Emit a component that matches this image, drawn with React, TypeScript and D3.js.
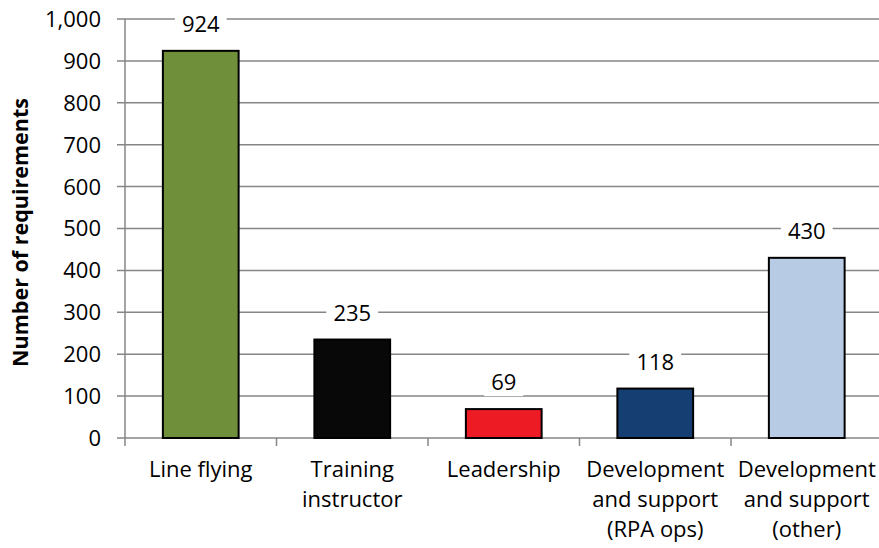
import React from "react";
import * as d3 from "d3";

const categories: string[][] = [
  ["Line flying"],
  ["Training", "instructor"],
  ["Leadership"],
  ["Development", "and support", "(RPA ops)"],
  ["Development", "and support", "(other)"],
];
const values: number[] = [924, 235, 69, 118, 430];
const colors: string[] = ["#6f8f3a", "#080808", "#ed1c24", "#153f72", "#b8cbe4"];
const yTicks: number[] = [0, 100, 200, 300, 400, 500, 600, 700, 800, 900, 1000];
const yTitle = "Number of requirements";

const W = 879;
const H = 548;
const left = 125;
const right = 882.5;
const top = 19;
const bottom = 438;
const FONT = "'Open Sans', sans-serif";

export default function App() {
  const x = d3
    .scaleBand<number>()
    .domain(d3.range(values.length))
    .range([left, right])
    .paddingInner(0.5)
    .paddingOuter(0.25);
  const y = d3.scaleLinear().domain([0, 1000]).range([bottom, top]);
  const step = x.step();
  const fmt = d3.format(",");
  const grid = "#868686";

  return (
    <svg
      width={W}
      height={H}
      style={{ position: "absolute", left: 0, top: 0, background: "#fff" }}
      fontFamily={FONT}
    >
      <rect x={0} y={0} width={W} height={H} fill="#fff" />
      {yTicks.map((t) => (
        <g key={t}>
          <line x1={left - 8} x2={right} y1={y(t)} y2={y(t)} stroke={grid} strokeWidth={1.5} />
          <text x={101} y={y(t)} dy="0.36em" textAnchor="end" fontSize={22} fill="#000">
            {fmt(t)}
          </text>
        </g>
      ))}
      <line x1={left} x2={left} y1={top} y2={bottom} stroke={grid} strokeWidth={1.5} />
      {d3.range(values.length + 1).map((i) => {
        const xx = left + i * step;
        return <line key={i} x1={xx} x2={xx} y1={bottom} y2={bottom + 8} stroke={grid} strokeWidth={1.5} />;
      })}
      {values.map((v, i) => (
        <rect
          key={i}
          x={x(i)!}
          y={y(v)}
          width={x.bandwidth()}
          height={bottom - y(v)}
          fill={colors[i]}
          stroke="#000"
          strokeWidth={2}
        />
      ))}
      {values.map((v, i) => {
        const cx = x(i)! + x.bandwidth() / 2;
        const by = y(v) - 19;
        const w = String(v).length * 12.6 + 14;
        return (
          <g key={i}>
            <rect x={cx - w / 2} y={by - 20} width={w} height={26} fill="#fff" />
            <text x={cx} y={by} textAnchor="middle" fontSize={22} fill="#000">
              {v}
            </text>
          </g>
        );
      })}
      {categories.map((lines, i) => {
        const cx = x(i)! + x.bandwidth() / 2;
        return (
          <text key={i} x={cx} y={477} textAnchor="middle" fontSize={22} fill="#000">
            {lines.map((l, j) => (
              <tspan key={j} x={cx} y={477 + j * 30}>
                {l}
              </tspan>
            ))}
          </text>
        );
      })}
      <text
        transform={`translate(28,${(top + bottom) / 2 + 4}) rotate(-90)`}
        textAnchor="middle"
        fontSize={21.5}
        fontWeight="bold"
        fill="#000"
      >
        {yTitle}
      </text>
    </svg>
  );
}
